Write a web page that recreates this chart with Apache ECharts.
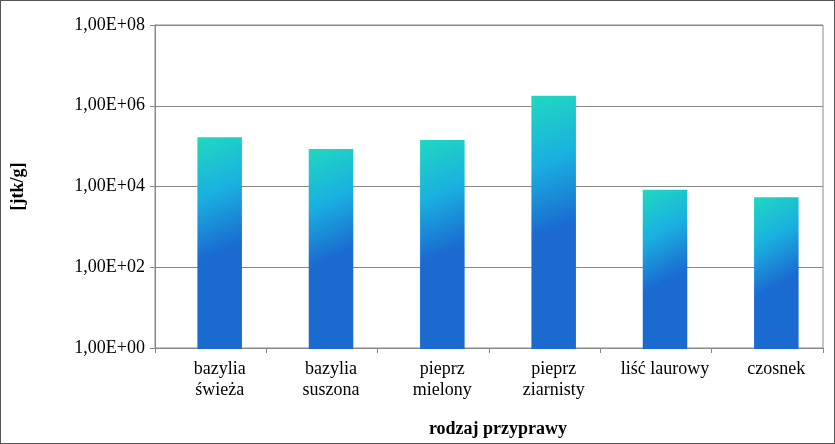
<!DOCTYPE html><html><head><meta charset="utf-8">
<script src="https://cdn.jsdelivr.net/npm/echarts@6/dist/echarts.min.js"></script>
<style>html,body{margin:0;padding:0;background:#fff}#c{width:835px;height:444px;box-sizing:border-box;border:1px solid #555}</style>
</head><body><div id="c"></div><script>
const categories=['bazylia\nświeża','bazylia\nsuszona','pieprz\nmielony','pieprz\nziarnisty','liść laurowy','czosnek'];
const values=[170000,87000,145000,1800000,8500,5600];
const chart=echarts.init(document.getElementById('c'));
const font='Liberation Serif';
const yBase={type:'log',logBase:100,min:1,max:1e8};
chart.setOption({
 animation:false,
 grid:[{left:154,right:11,top:24,bottom:94,show:true,borderColor:'#888',borderWidth:1},
       {left:163,right:2,top:24,bottom:94}],
 xAxis:[{type:'category',gridIndex:0,data:categories,name:'rodzaj przyprawy',nameLocation:'middle',nameGap:72,
  nameTextStyle:{fontFamily:font,fontSize:18,fontWeight:'bold',color:'#000',padding:[0,0,0,18]},
  axisLine:{lineStyle:{color:'#888'}},axisTick:{show:true,lineStyle:{color:'#888'}},axisLabel:{show:false}},
  {type:'category',gridIndex:1,data:categories,axisLine:{show:false},axisTick:{show:false},
  axisLabel:{interval:0,fontFamily:font,fontSize:18,color:'#000',lineHeight:21,margin:10}}],
 yAxis:[Object.assign({gridIndex:0,name:'[jtk/g]',nameLocation:'middle',nameGap:128,
  nameTextStyle:{fontFamily:font,fontSize:18,fontWeight:'bold',color:'#000'},
  axisLine:{show:true,lineStyle:{color:'#888'}},axisTick:{show:true,lineStyle:{color:'#888'}},
  splitLine:{lineStyle:{color:'#888'}},
  axisLabel:{fontFamily:font,fontSize:18,color:'#000',margin:10,formatter:v=>{const e=Math.round(Math.log10(v));return '1,00E+'+(e<10?'0':'')+e;}}},yBase),
  Object.assign({gridIndex:1,show:false},yBase)],
 series:[{type:'bar',xAxisIndex:1,yAxisIndex:1,data:values,barWidth:'40%',
  itemStyle:{color:new echarts.graphic.LinearGradient(0,0,1,0.5,[{offset:0,color:'#20d8c0'},{offset:0.5,color:'#1ab0e0'},{offset:1,color:'#1a6ad0'}])}}]
});
</script></body></html>
